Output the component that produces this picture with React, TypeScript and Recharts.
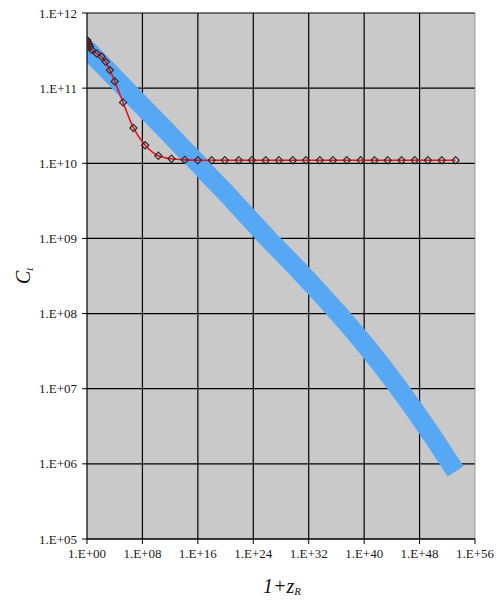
import React from 'react';
import {
  ComposedChart,
  Line,
  XAxis,
  YAxis,
  CartesianGrid,
  ReferenceLine,
  Label
} from 'recharts';

// values, as powers of ten
const bandLogX = [0, 2, 4, 6, 8, 10, 12, 14, 16, 18, 20, 22, 24, 26, 28, 30, 32, 34, 36, 38, 40, 42, 44, 46, 48, 50, 52, 53.2];
const bandLogY = [11.52, 11.33, 11.14, 10.95, 10.76, 10.57, 10.38, 10.19, 10.0, 9.8, 9.61, 9.41, 9.21, 9.01, 8.82, 8.63, 8.435, 8.235, 8.03, 7.82, 7.6, 7.37, 7.13, 6.88, 6.62, 6.35, 6.07, 5.9];

const redLogX = [0, 0.1, 0.2, 0.3, 0.45, 0.68, 1.4, 2.1, 2.7, 3.3, 4.0, 5.2, 6.7, 8.4, 10.3, 12.2, 14.1, 16.0, 18.0, 19.9, 21.9, 23.8, 25.8, 27.7, 29.7, 31.6, 33.6, 35.5, 37.5, 39.5, 41.5, 43.4, 45.4, 47.3, 49.2, 51.2, 53.2];
const redLogY = [11.64, 11.62, 11.6, 11.58, 11.55, 11.51, 11.46, 11.42, 11.35, 11.24, 11.09, 10.81, 10.47, 10.24, 10.1, 10.06, 10.045, 10.04, 10.04, 10.04, 10.04, 10.04, 10.04, 10.04, 10.04, 10.04, 10.04, 10.04, 10.04, 10.04, 10.04, 10.04, 10.04, 10.04, 10.04, 10.04, 10.04];

const xTickExp = [0, 8, 16, 24, 32, 40, 48, 56];
const yTickExp = [5, 6, 7, 8, 9, 10, 11, 12];

const bandData = bandLogX.map((e, i) => ({ x: Math.pow(10, e), y: Math.pow(10, bandLogY[i]) }));
const redData = redLogX.map((e, i) => ({ x: Math.pow(10, e), y: Math.pow(10, redLogY[i]) }));
const xTicks = xTickExp.map((e) => Math.pow(10, e));
const yTicks = yTickExp.map((e) => Math.pow(10, e));

const sci = (v: number) => {
  const e = Math.round(Math.log10(v));
  return `1.E+${String(e).padStart(2, '0')}`;
};

const tickStyle = { fill: '#1a1a1a', fontSize: 13, fontFamily: 'Liberation Serif, serif' };

const Diamond = (props: any) => {
  const { cx, cy } = props;
  if (cx == null || cy == null) return null;
  const r = 3.6;
  return (
    <polygon
      points={`${cx},${cy - r} ${cx + r},${cy} ${cx},${cy + r} ${cx - r},${cy}`}
      fill="none"
      stroke="#3a2626"
      strokeWidth={1.2}
    />
  );
};

export default function App() {
  return (
    <div style={{ position: 'absolute', left: 0, top: 0, background: '#fff' }}>
      <ComposedChart
        width={503}
        height={602}
        margin={{ top: 13, right: 28, left: 27, bottom: 23 }}
      >
        <CartesianGrid
          fill="#c9c9c9"
          stroke="#000"
          strokeWidth={1.2}
          vertical={false}
          horizontalValues={yTicks}
        />
        {xTicks.slice(1, -1).map((t) => (
          <ReferenceLine key={t} x={t} stroke="#000" strokeWidth={1.2} />
        ))}
        <ReferenceLine x={xTicks[xTicks.length - 1]} stroke="#9a9a9a" strokeWidth={1} />
        <XAxis
          type="number"
          dataKey="x"
          scale="log"
          domain={[1, 1e56]}
          ticks={xTicks}
          tickFormatter={sci}
          tick={tickStyle}
          tickSize={5}
          tickMargin={5}
          height={40}
          axisLine={{ stroke: '#000', strokeWidth: 1.2 }}
          tickLine={{ stroke: '#000' }}
          allowDataOverflow
        >
          <Label
            content={() => (
              <text x={282} y={593} textAnchor="middle" fontFamily="Liberation Serif, serif" fontStyle="italic" fontSize={20} fill="#111">
                1+z
                <tspan fontSize={11} dy={2}>R</tspan>
              </text>
            )}
          />
        </XAxis>
        <YAxis
          type="number"
          dataKey="y"
          scale="log"
          domain={[1e5, 1e12]}
          ticks={yTicks}
          tickFormatter={sci}
          tick={tickStyle}
          tickSize={5}
          tickMargin={5}
          width={60}
          axisLine={{ stroke: '#000', strokeWidth: 1.2 }}
          tickLine={{ stroke: '#000' }}
          allowDataOverflow
        >
          <Label
            content={() => (
              <text x={30} y={284} transform="rotate(-90, 30, 284)" fontFamily="Liberation Serif, serif" fontStyle="italic" fontSize={20} fill="#111">
                C
                <tspan fontSize={11} dy={3}>t</tspan>
              </text>
            )}
          />
        </YAxis>
        <Line
          data={bandData}
          dataKey="y"
          type="monotone"
          stroke="#57a8f4"
          strokeWidth={19}
          strokeLinecap="butt"
          dot={false}
          isAnimationActive={false}
        />
        <Line
          data={redData}
          dataKey="y"
          type="monotone"
          stroke="#e3141e"
          strokeWidth={1.6}
          dot={<Diamond />}
          isAnimationActive={false}
        />
      </ComposedChart>
    </div>
  );
}
